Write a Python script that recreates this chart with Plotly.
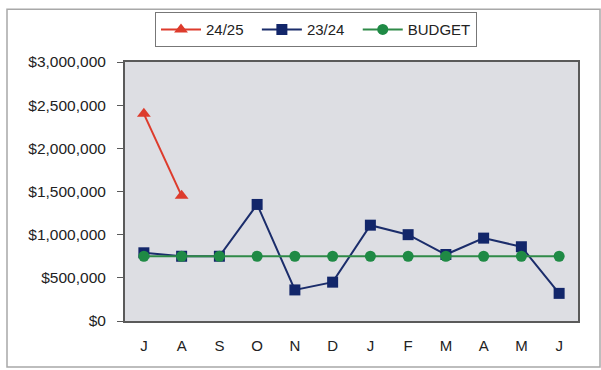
import plotly.graph_objects as go

months = ["J", "A", "S", "O", "N", "D", "J", "F", "M", "A", "M", "J"]
sales_2425 = [2400000, 1450000]
sales_2324 = [790000, 750000, 750000, 1350000, 360000, 450000, 1110000, 1000000, 770000, 960000, 860000, 320000]
budget = [750000] * 12
y_ticks = [0, 500000, 1000000, 1500000, 2000000, 2500000, 3000000]
y_labels = ["$0", "$500,000", "$1,000,000", "$1,500,000", "$2,000,000", "$2,500,000", "$3,000,000"]

x_idx = list(range(len(months)))

fig = go.Figure()
fig.add_trace(go.Scatter(
    x=x_idx[:len(sales_2425)], y=sales_2425, name="24/25  ", mode="lines+markers",
    line=dict(color="#dd3b2c", width=2),
    marker=dict(symbol="triangle-up", size=12, color="#dd3b2c"),
))
fig.add_trace(go.Scatter(
    x=x_idx, y=sales_2324, name="23/24  ", mode="lines+markers",
    line=dict(color="#1b2d6b", width=2),
    marker=dict(symbol="square", size=11, color="#12266a"),
))
fig.add_trace(go.Scatter(
    x=x_idx, y=budget, name="BUDGET", mode="lines+markers",
    line=dict(color="#2f8a48", width=2),
    marker=dict(symbol="circle", size=11, color="#1f8a45"),
))

L, R, T, B = 125, 23, 56, 49
W, H = 601, 370
pw, ph = W - L - R, H - T - B

def px_x(p):
    return (p - L) / pw

def px_y(p):
    return (H - B - p) / ph

fig.update_layout(
    width=W, height=H,
    margin=dict(l=L, r=R, t=T, b=B),
    paper_bgcolor="white",
    plot_bgcolor="#dddee3",
    font=dict(family="Liberation Sans, Arial, sans-serif", color="#222222"),
    showlegend=True,
    legend=dict(
        orientation="h", x=px_x(316), y=px_y(5), xanchor="center", yanchor="top",
        bgcolor="white", bordercolor="#777777", borderwidth=1,
        font=dict(size=15), itemwidth=40, traceorder="normal",
    ),
    xaxis=dict(
        range=[-0.5, 11.5], tickvals=x_idx, ticktext=months,
        showgrid=False, zeroline=False, showline=True, linecolor="#5a5a5a", linewidth=2,
        mirror=True, ticks="", tickfont=dict(size=15), ticklabelstandoff=10,
    ),
    yaxis=dict(
        range=[0, 3000000], tickvals=y_ticks, ticktext=y_labels,
        showgrid=False, zeroline=False, showline=True, linecolor="#5a5a5a", linewidth=2,
        mirror=True, ticks="outside", ticklen=6, tickcolor="#5a5a5a",
        tickfont=dict(size=15.5), ticklabelstandoff=8,
    ),
    shapes=[
        dict(type="rect", xref="paper", yref="paper",
             x0=px_x(7), x1=px_x(600), y0=px_y(368), y1=px_y(2),
             line=dict(color="#a8a8a8", width=1.5), layer="below"),
    ],
)

fig.write_html("out.html")
